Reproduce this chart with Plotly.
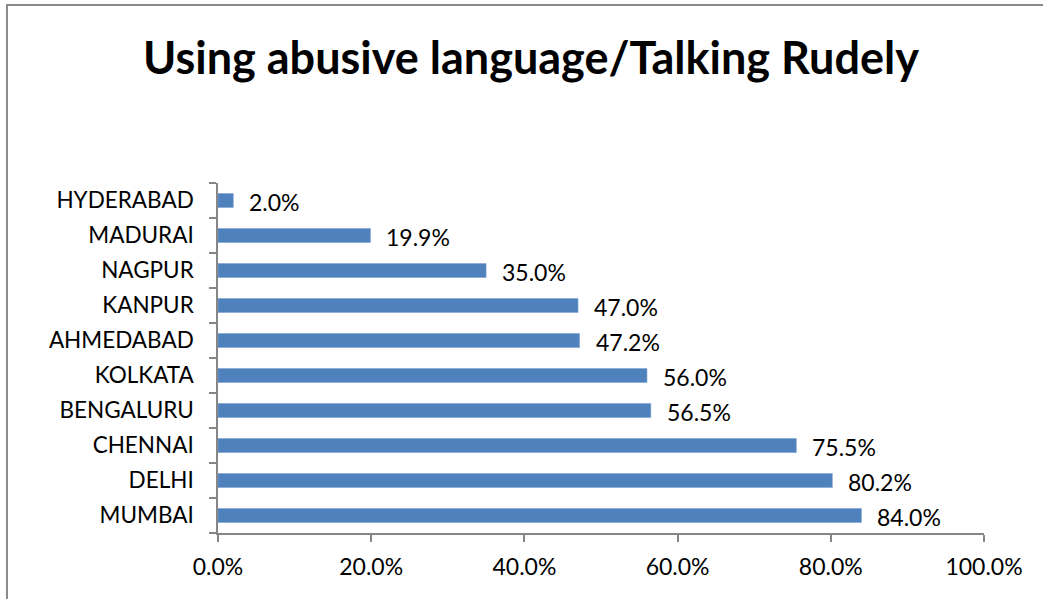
import plotly.graph_objects as go

cities = ["MUMBAI", "DELHI", "CHENNAI", "BENGALURU", "KOLKATA",
          "AHMEDABAD", "KANPUR", "NAGPUR", "MADURAI", "HYDERABAD"]
values = [84.0, 80.2, 75.5, 56.5, 56.0, 47.2, 47.0, 35.0, 19.9, 2.0]
x_ticks = [0, 20, 40, 60, 80, 100]
x_tick_labels = ["0.0%", "20.0%", "40.0%", "60.0%", "80.0%", "100.0%"]

FONT = "Lato"
AXIS_GREY = "#868686"
BAR_BLUE = "#4F81BD"

fig = go.Figure()
fig.add_trace(go.Bar(
    x=values,
    y=cities,
    orientation="h",
    marker=dict(color=BAR_BLUE, line=dict(color="#7FA3D3", width=0.6)),
    hoverinfo="x+y",
))

# value labels to the right of each bar
for city, v in zip(cities, values):
    fig.add_annotation(
        x=v, y=city, xref="x", yref="y",
        text=f"{v:.1f}%", showarrow=False,
        xanchor="left", yanchor="middle",
        xshift=14, yshift=-1,
        font=dict(family=FONT, size=23, color="#000000"),
    )

# outer chart frame
fig.add_shape(
    type="rect", xref="paper", yref="paper",
    x0=-0.2755, x1=1.3, y0=-0.4, y1=1.5086,
    line=dict(color="#8A8A8A", width=2), fillcolor="rgba(0,0,0,0)",
    layer="below",
)

fig.update_layout(
    width=1043, height=599,
    margin=dict(l=218, r=59, t=183, b=66),
    paper_bgcolor="white", plot_bgcolor="white",
    showlegend=False,
    bargap=0.6,
    title=dict(
        text="<b>Using abusive language/Talking Rudely</b>",
        x=531 / 1043, xref="container", xanchor="center",
        y=1 - 58 / 599, yref="container", yanchor="middle",
        font=dict(family=FONT, size=45, color="#000000"),
    ),
    xaxis=dict(
        range=[0, 100],
        tickmode="array", tickvals=x_ticks, ticktext=x_tick_labels,
        ticks="outside", ticklen=7, tickcolor=AXIS_GREY, tickwidth=1.5,
        showline=True, linecolor=AXIS_GREY, linewidth=1.5,
        showgrid=False, zeroline=False,
        tickfont=dict(family=FONT, size=23, color="#000000"),
        ticklabelstandoff=6,
    ),
    yaxis=dict(
        categoryorder="array", categoryarray=cities,
        ticks="outside", ticklen=7, tickcolor=AXIS_GREY, tickwidth=1.5,
        tickson="boundaries",
        showline=True, linecolor=AXIS_GREY, linewidth=1.5,
        showgrid=False, zeroline=False,
        tickfont=dict(family=FONT, size=22.5, color="#000000"),
        ticklabelstandoff=18,
    ),
)

fig.write_html("out.html")
